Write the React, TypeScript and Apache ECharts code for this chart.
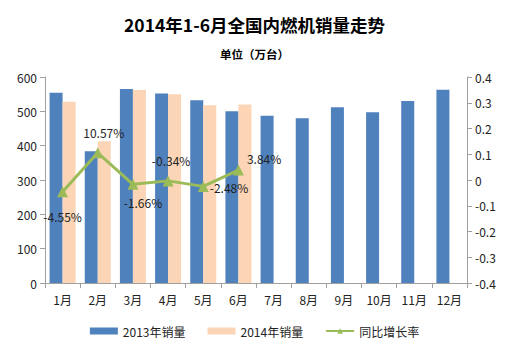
import React, { useEffect, useRef } from "react";
import * as echarts from "echarts";

const months = ["1月", "2月", "3月", "4月", "5月", "6月", "7月", "8月", "9月", "10月", "11月", "12月"];
const sales2013 = [554, 384, 565, 552, 532, 500, 487, 480, 512, 497, 530, 563];
const sales2014 = [528, 413, 562, 550, 518, 520];
const growth = [-0.0455, 0.1057, -0.0166, -0.0034, -0.0248, 0.0384];
const growthLabels = ["-4.55%", "10.57%", "-1.66%", "-0.34%", "-2.48%", "3.84%"];
const labelPos = ["bottom", "top", "bottom", "top", "right", "right"];
const labelOffset = [[0, 8], [6, -4], [10, 2], [3, -4], [-4, 1], [-2, -12]];

const FONT = "'Noto Sans CJK SC', 'Noto Sans', sans-serif";

export default function App() {
  const ref = useRef<HTMLDivElement>(null);
  useEffect(() => {
    const chart = echarts.init(ref.current!, null, { renderer: "svg" });
    chart.setOption({
      animation: false,
      textStyle: { fontFamily: FONT },
      title: [
        {
          text: "2014年1-6月全国内燃机销量走势",
          left: "center",
          top: 11,
          textStyle: { fontSize: 17.5, fontWeight: "bold", color: "#000", fontFamily: FONT },
        },
        {
          text: "单位（万台）",
          left: "center",
          top: 43,
          textStyle: { fontSize: 11.5, fontWeight: "bold", color: "#000", fontFamily: FONT },
        },
      ],
      legend: {
        bottom: 8,
        left: "center",
        itemWidth: 28,
        itemHeight: 7,
        itemGap: 22,
        textStyle: { fontSize: 12, color: "#222", fontFamily: FONT },
        data: [
          { name: "2013年销量", icon: "rect" },
          { name: "2014年销量", icon: "rect" },
          { name: "同比增长率" },
        ],
      },
      grid: { left: 45, right: 42, top: 77, bottom: 67 },
      xAxis: {
        type: "category",
        data: months,
        boundaryGap: true,
        axisLine: { lineStyle: { color: "#a0a0a0" } },
        axisTick: { show: true, alignWithLabel: false, lineStyle: { color: "#a0a0a0" } },
        axisLabel: { color: "#222", fontSize: 12, margin: 10, fontFamily: FONT },
      },
      yAxis: [
        {
          type: "value",
          min: 0,
          max: 600,
          interval: 100,
          axisLine: { show: true, lineStyle: { color: "#a0a0a0" } },
          axisTick: { show: true, inside: false, lineStyle: { color: "#a0a0a0" } },
          splitLine: { show: false },
          axisLabel: { color: "#222", fontSize: 12, fontFamily: FONT },
        },
        {
          type: "value",
          min: -0.4,
          max: 0.4,
          interval: 0.1,
          axisLine: { show: true, lineStyle: { color: "#a0a0a0" } },
          axisTick: { show: true, lineStyle: { color: "#a0a0a0" } },
          splitLine: { show: false },
          axisLabel: {
            color: "#222",
            fontSize: 12,
            fontFamily: FONT,
            formatter: (v: number) => String(Math.round(v * 10) / 10),
          },
        },
      ],
      series: [
        {
          name: "2013年销量",
          type: "bar",
          data: sales2013,
          barWidth: 13,
          barGap: "0%",
          itemStyle: { color: "#4F81BD" },
        },
        {
          name: "2014年销量",
          type: "bar",
          data: sales2014,
          barWidth: 13,
          barGap: "0%",
          itemStyle: { color: "#FBD5B5" },
        },
        {
          name: "同比增长率",
          type: "line",
          yAxisIndex: 1,
          data: growth.map((v, i) => ({
            value: v,
            label: {
              show: true,
              position: labelPos[i],
              offset: labelOffset[i],
              formatter: growthLabels[i],
            },
          })),
          symbol: "triangle",
          symbolSize: 11,
          lineStyle: { color: "#9BBB59", width: 3 },
          itemStyle: { color: "#9BBB59" },
          label: { color: "#222", fontSize: 12, fontFamily: FONT },
        },
      ],
    });
    return () => chart.dispose();
  }, []);
  return <div ref={ref} style={{ width: 509, height: 350, margin: -8 }} />;
}
